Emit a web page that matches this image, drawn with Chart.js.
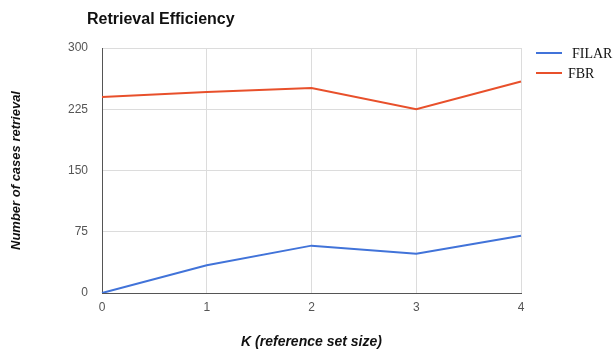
<!DOCTYPE html>
<html lang="en">
<head>
<meta charset="UTF-8">
<title>Retrieval Efficiency</title>
<style>
  html, body { margin: 0; padding: 0; background: #fff; }
  #wrap { width: 613px; height: 351px; position: relative; }
</style>
</head>
<body>
<div id="wrap"><canvas id="myChart"></canvas></div>
<script src="https://cdn.jsdelivr.net/npm/chart.js@4/dist/chart.umd.min.js"></script>
<script>
// data
const kLabels = ["0", "1", "2", "3", "4"];
const filarValues = [0, 34, 58, 48, 70];
const fbrValues = [240, 246, 251, 225, 259];
const yTicks = [0, 75, 150, 225, 300];
const chartTitle = "Retrieval Efficiency";
const xTitle = "K (reference set size)";
const yTitle = "Number of cases retrieval";

// title + legend drawn by hand so the fonts match the picture
const extras = {
    id: "extras",
    afterDraw(chart) {
        const ctx = chart.ctx;
        ctx.save();
        ctx.fillStyle = "#111";
        ctx.font = "bold 16px 'Liberation Sans', Arial, sans-serif";
        ctx.textBaseline = "alphabetic";
        ctx.fillText(chartTitle, 87, 24);

        const area = chart.chartArea;
        chart.data.datasets.forEach(function (ds, i) {
            const y = area.top + 5 + i * 20;
            ctx.strokeStyle = ds.borderColor;
            ctx.lineWidth = 2;
            ctx.beginPath();
            ctx.moveTo(536, y);
            ctx.lineTo(562, y);
            ctx.stroke();
            ctx.fillStyle = "#111";
            ctx.font = "14px 'Liberation Serif', 'Times New Roman', serif";
            ctx.textBaseline = "middle";
            ctx.fillText(ds.label, i == 0 ? 572 : 568, y + 1);
        });
        ctx.restore();
    }
};

new Chart("myChart", {
    type: "line",
    data: {
        labels: kLabels,
        datasets: [
            { label: "FILAR", data: filarValues, borderColor: "#4173d9", borderWidth: 2, pointRadius: 0, tension: 0 },
            { label: "FBR", data: fbrValues, borderColor: "#e8502b", borderWidth: 2, pointRadius: 0, tension: 0 }
        ]
    },
    options: {
        responsive: true,
        maintainAspectRatio: false,
        animation: false,
        layout: { padding: { top: 48, right: 92, left: 0, bottom: 0 } },
        plugins: {
            legend: { display: false },
            title: { display: false },
            tooltip: { enabled: false }
        },
        scales: {
            x: {
                type: "category",
                offset: false,
                grid: { color: "#dcdcdc", drawTicks: false, lineWidth: 1 },
                border: { color: "#555", width: 1 },
                ticks: { color: "#555", font: { size: 12, family: "'Liberation Sans', Arial" }, padding: 7, maxRotation: 0 },
                title: {
                    display: true, text: xTitle, color: "#111",
                    font: { size: 14, weight: "bold", style: "italic", family: "'Liberation Sans', Arial" },
                    padding: { top: 19, bottom: 0 }
                },
                afterFit: function (scale) { scale.height = 58; }
            },
            y: {
                min: 0, max: 300,
                afterBuildTicks: function (scale) { scale.ticks = yTicks.map(function (v) { return { value: v }; }); },
                grid: { color: "#dcdcdc", drawTicks: false, lineWidth: 1 },
                border: { color: "#555", width: 1 },
                ticks: { color: "#555", font: { size: 12, family: "'Liberation Sans', Arial" }, padding: 14 },
                title: {
                    display: true, text: yTitle, color: "#111",
                    font: { size: 13, weight: "bold", style: "italic", family: "'Liberation Sans', Arial" },
                    padding: { top: 9 }
                },
                afterFit: function (scale) { scale.width = 102; }
            }
        }
    },
    plugins: [extras]
});
</script>
</body>
</html>
